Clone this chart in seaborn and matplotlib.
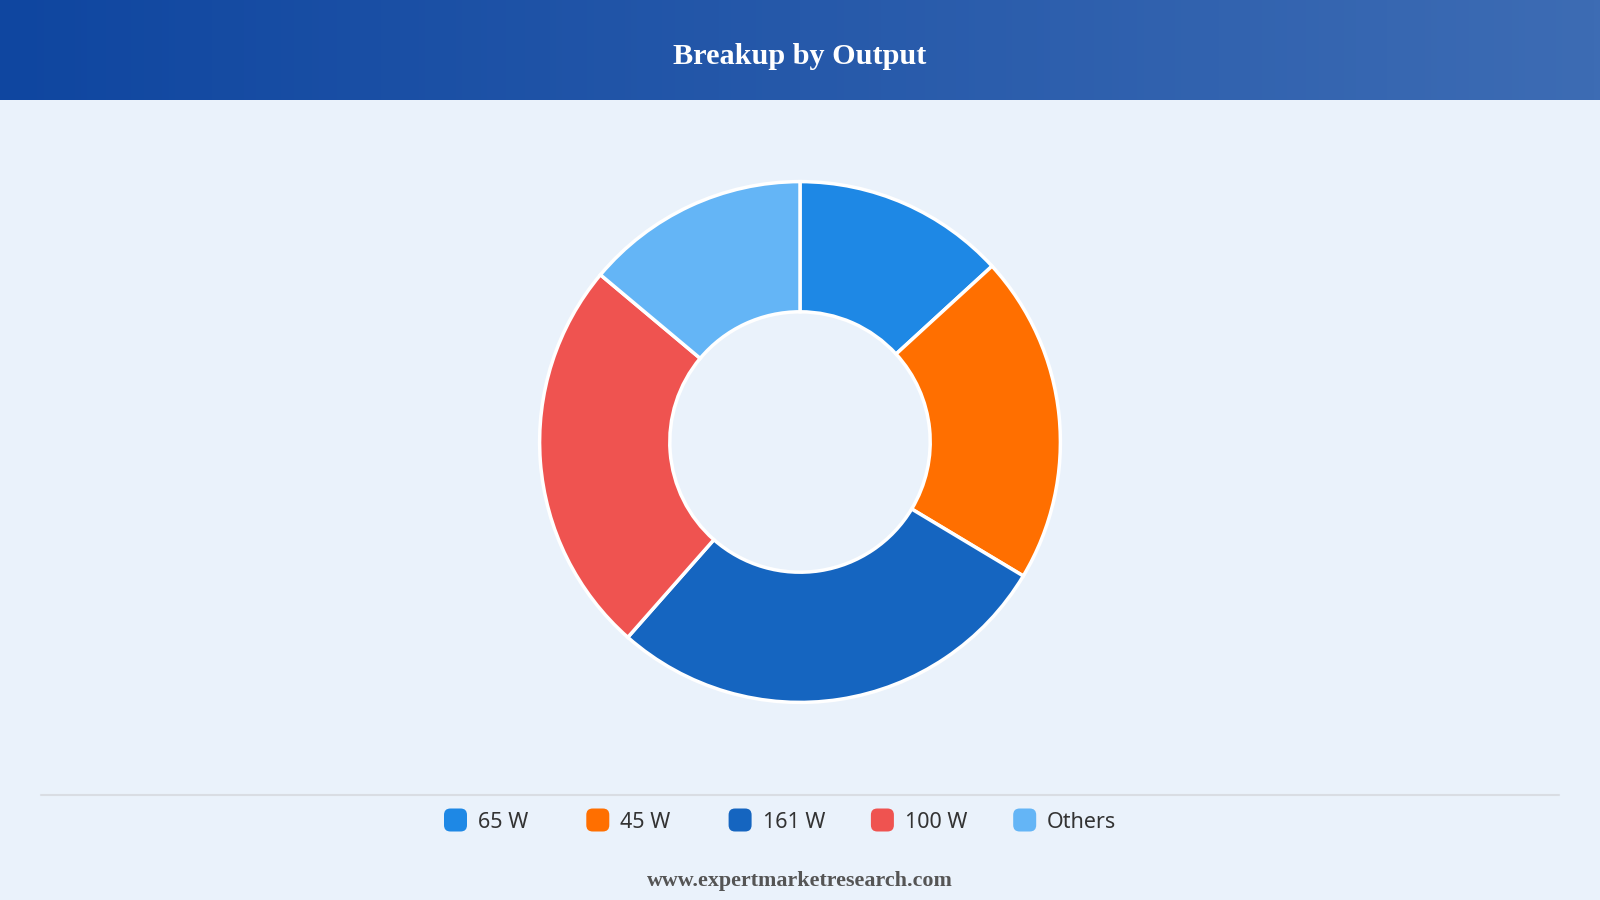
import matplotlib
matplotlib.use("Agg")
import matplotlib.pyplot as plt
import seaborn as sns
import numpy as np
from matplotlib.colors import LinearSegmentedColormap
from matplotlib.patches import FancyBboxPatch
from matplotlib.lines import Line2D


TITLE = "Breakup by Output"
FOOTER = "www.expertmarketresearch.com"
CATEGORIES = ["65 W", "45 W", "161 W", "100 W", "Others"]
SHARES = [13.2, 20.4, 27.9, 24.6, 13.9]
COLORS = ["#1e88e5", "#ff6f00", "#1565c0", "#ef5350", "#64b5f6"]

BG = "#eaf2fb"
W, H = 1600, 900

sns.set_theme(style="white")
plt.rcParams["font.family"] = ["Noto Sans", "DejaVu Sans"]

fig = plt.figure(figsize=(16, 9), dpi=100)
fig.patch.set_facecolor(BG)

# header band with a left-to-right gradient
head = fig.add_axes([0, 1 - 100 / H, 1, 100 / H])
cmap = LinearSegmentedColormap.from_list("head", ["#0f46a0", "#3d6cb4"])
head.imshow(np.linspace(0, 1, 256)[None, :], aspect="auto", cmap=cmap,
            extent=[0, 1, 0, 1])
head.set_axis_off()
head.text(0.5, 0.44, TITLE, ha="center", va="center", color="white",
          fontsize=21.8, fontweight="bold", family="Liberation Serif")

# donut
r = 263
cx, cy = 800, H - 442
ax = fig.add_axes([(cx - r) / W, (cy - r) / H, 2 * r / W, 2 * r / H])
ax.set_facecolor(BG)
ax.pie(SHARES, colors=COLORS, startangle=90, counterclock=False,
       wedgeprops=dict(width=0.5, edgecolor="white", linewidth=2.5))
ax.set_xlim(-1.01, 1.01)
ax.set_ylim(-1.01, 1.01)
ax.set_axis_off()

# separator line
fig.add_artist(Line2D([41 / W, 1559 / W], [1 - 795 / H, 1 - 795 / H],
                      color="#d9dde3", linewidth=1.5, transform=fig.transFigure))

# legend
x0, step, y = 444, 142.3, 820
sq = 23
for i, (label, color) in enumerate(zip(CATEGORIES, COLORS)):
    x = x0 + i * step
    box = FancyBboxPatch((x / W, (H - y - sq / 2) / H), sq / W, sq / H,
                         boxstyle="round,pad=0,rounding_size=0.004",
                         transform=fig.transFigure, facecolor=color,
                         edgecolor="none", mutation_aspect=W / H)
    fig.add_artist(box)
    fig.text((x + 34) / W, 1 - (y + 2) / H, label, ha="left", va="center",
             fontsize=15.5, color="#333333")

fig.text(0.5, 1 - 881 / H, FOOTER, ha="center", va="center",
         fontsize=15.8, fontweight="bold", color="#555555",
         family="Liberation Serif")

fig.savefig("out.png", dpi=100, facecolor=BG)
